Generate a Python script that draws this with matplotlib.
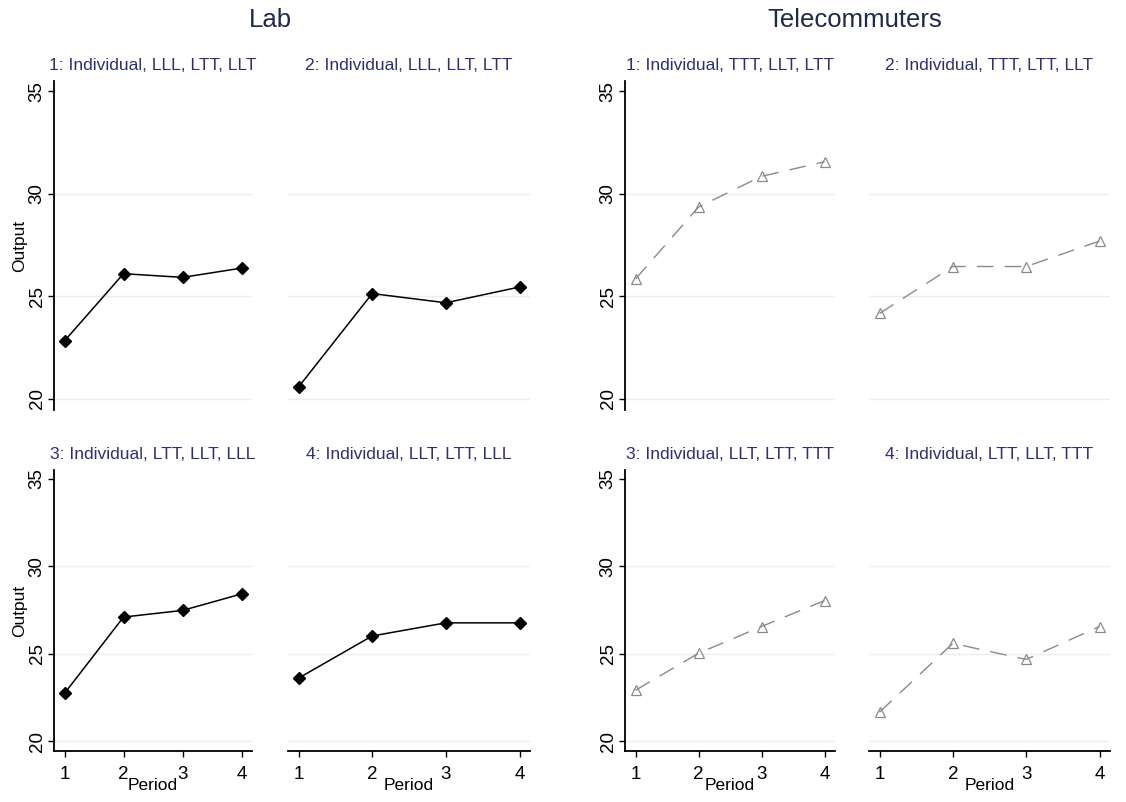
import matplotlib
matplotlib.use("Agg")
import matplotlib.pyplot as plt

plt.rcParams['font.family'] = ['Liberation Sans', 'DejaVu Sans']

periods = [1, 2, 3, 4]
yticks = [20, 25, 30, 35]
gridvals = [20, 25, 30]

lab_titles = ["1: Individual, LLL, LTT, LLT", "2: Individual, LLL, LLT, LTT",
              "3: Individual, LTT, LLT, LLL", "4: Individual, LLT, LTT, LLL"]
tele_titles = ["1: Individual, TTT, LLT, LTT", "2: Individual, TTT, LTT, LLT",
               "3: Individual, LLT, LTT, TTT", "4: Individual, LTT, LLT, TTT"]

lab_1 = [22.82, 26.10, 25.92, 26.37]
lab_2 = [20.57, 25.13, 24.68, 25.45]
lab_3 = [22.74, 27.10, 27.48, 28.42]
lab_4 = [23.61, 26.02, 26.77, 26.77]
tele_1 = [25.84, 29.35, 30.85, 31.56]
tele_2 = [24.16, 26.45, 26.45, 27.69]
tele_3 = [22.92, 25.03, 26.56, 28.04]
tele_4 = [21.67, 25.60, 24.68, 26.56]

W, H = 1126, 802
fig = plt.figure(figsize=(W / 100, H / 100), dpi=100)

def px_axes(x0, x1, y0, y1):
    return fig.add_axes([x0 / W, 1 - y1 / H, (x1 - x0) / W, (y1 - y0) / H])

cols = [(54, 252), (288, 530), (625, 835), (869, 1110)]
rows = [(81, 410), (470, 751)]
edge_pad = 10.5  # pixels between axis edge and first/last period

title_col = '#2e3070'
grid_col = '#e6eff1'

panels = [
    (0, 0, lab_1, lab_titles[0], 'lab'), (0, 1, lab_2, lab_titles[1], 'lab'),
    (1, 0, lab_3, lab_titles[2], 'lab'), (1, 1, lab_4, lab_titles[3], 'lab'),
    (0, 2, tele_1, tele_titles[0], 'tele'), (0, 3, tele_2, tele_titles[1], 'tele'),
    (1, 2, tele_3, tele_titles[2], 'tele'), (1, 3, tele_4, tele_titles[3], 'tele'),
]

for r, c, vals, title, kind in panels:
    x0, x1 = cols[c]
    y0, y1 = rows[r]
    ax = px_axes(x0, x1, y0, y1)
    ppu = (x1 - x0 - 2 * edge_pad) / 3.0
    ax.set_xlim(1 - edge_pad / ppu, 4 + edge_pad / ppu)
    ax.set_ylim(19.45, 35.5)
    for g in gridvals:
        ax.axhline(g, color=grid_col, lw=1.0, zorder=0)
    if kind == 'lab':
        ax.plot(periods, vals, color='black', lw=1.1, marker='D',
                markersize=5.8, markerfacecolor='black', markeredgecolor='black', zorder=3)
    else:
        ax.plot(periods, vals, color='#8a8a8a', lw=1.0, dashes=(12, 8), marker='^',
                markersize=7, markerfacecolor='none', markeredgecolor='#8a8a8a',
                markeredgewidth=0.9, zorder=3)
    for s in ['top', 'right']:
        ax.spines[s].set_visible(False)
    first_col = c in (0, 2)
    bottom_row = r == 1
    if first_col:
        ax.spines['left'].set_linewidth(1.3)
        ax.set_yticks(yticks)
        ax.set_yticklabels([str(t) for t in yticks], rotation=90, va='center', fontsize=13.5)
        ax.tick_params(axis='y', length=4.5, width=1.0, pad=1.5)
    else:
        ax.spines['left'].set_visible(False)
        ax.set_yticks([])
    if bottom_row:
        ax.spines['bottom'].set_linewidth(1.3)
        ax.set_xticks(periods)
        ax.set_xticklabels([str(p) for p in periods], fontsize=13.5)
        ax.tick_params(axis='x', length=4.5, width=1.0, pad=6)
        ax.set_xlabel('Period', fontsize=12.5, labelpad=-3)
    else:
        ax.spines['bottom'].set_visible(False)
        ax.set_xticks([])
    if c == 0:
        ax.set_ylabel('Output', fontsize=12.5)
        ax.yaxis.set_label_coords((27 - x0) / (x1 - x0), 0.5)
    ax.set_title(title, fontsize=12.6, color=title_col, pad=8)

fig.text(270 / W, 1 - 20 / H, 'Lab', fontsize=18.5, color='#1e2a4a', ha='center', va='center')
fig.text(855 / W, 1 - 20 / H, 'Telecommuters', fontsize=18.5, color='#1e2a4a', ha='center', va='center')

fig.savefig('out.png', dpi=100, facecolor='white')
